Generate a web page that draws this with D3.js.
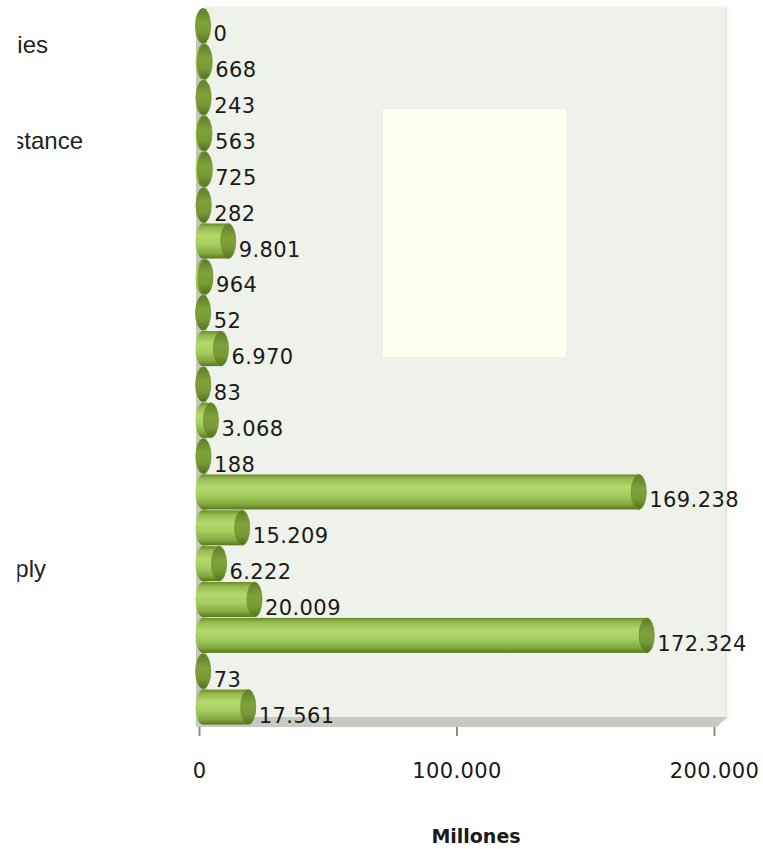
<!DOCTYPE html>
<html>
<head>
<meta charset="utf-8">
<script src="https://cdn.jsdelivr.net/npm/d3@7"></script>
<style>
  body { margin: 0; background: #ffffff; }
  svg { display: block; }
</style>
</head>
<body>
<div id="chart"></div>
<script>
// Data (cut-off bar chart, values in "Millones")
const categories = ['r01', 'r02', 'r03', 'r04', 'r05', 'r06', 'r07', 'r08', 'r09', 'r10',
                    'r11', 'r12', 'r13', 'r14', 'r15', 'r16', 'r17', 'r18', 'r19', 'r20'];
const values = [0, 668, 243, 563, 725, 282, 9801, 964, 52, 6970,
                83, 3068, 188, 169238, 15209, 6222, 20009, 172324, 73, 17561];
const tickValues = [0, 100000, 200000];
// visible fragments of the (clipped) category labels and the row they sit on
const labelFragments = ['ies', 'stance', 'ply'];
const labelRows = [1.26, 3.93, 15.87];
const axisTitle = 'Millones';

(function() {
    const width = 763;
    const height = 849;

    const fmt = d3.formatLocale({decimal: ',', thousands: '.', grouping: [3], currency: ['', '']}).format(',d');

    const svg = d3.select('#chart')
        .append('svg')
        .attr('width', width)
        .attr('height', height);

    const defs = svg.append('defs');

    // cylinder body: dark edges, light middle
    const body = defs.append('linearGradient')
        .attr('id', 'cyl')
        .attr('x1', 0).attr('y1', 0).attr('x2', 0).attr('y2', 1);
    [[0, '#6b8a2c'], [0.12, '#93bb4c'], [0.35, '#b3d86c'], [0.6, '#a6cd5f'], [0.85, '#82aa3e'], [1, '#58771f']]
        .forEach(s => body.append('stop').attr('offset', s[0]).attr('stop-color', s[1]));

    const cap = defs.append('linearGradient')
        .attr('id', 'cap')
        .attr('x1', 0).attr('y1', 0).attr('x2', 0).attr('y2', 1);
    [[0, '#5f7e25'], [0.4, '#7fa23c'], [0.7, '#779a36'], [1, '#53711c']]
        .forEach(s => cap.append('stop').attr('offset', s[0]).attr('stop-color', s[1]));

    const shade = defs.append('filter').attr('id', 'soft')
        .attr('x', -0.05).attr('y', -0.05).attr('width', 1.1).attr('height', 1.1);
    shade.append('feGaussianBlur').attr('stdDeviation', 1.5);

    defs.append('clipPath').attr('id', 'leftcut')
        .append('rect').attr('x', 17.5).attr('y', 0).attr('width', 180).attr('height', height);

    // scales
    const x = d3.scaleLinear()
        .domain([0, 200000])
        .range([199, 714]);

    const y = d3.scaleBand()
        .domain(categories)
        .range([8, 725])
        .padding(0);

    const row = d3.scaleLinear()
        .domain([0, categories.length])
        .range([8, 725]);

    const depth = 4;      // 3D depth shift of the bars
    const r = 17.5;       // cylinder radius
    const rx = 7.5;       // ellipse half width of the caps

    // back wall
    svg.append('rect')
        .attr('x', 206).attr('y', 7)
        .attr('width', 521).attr('height', 713)
        .attr('fill', '#dfe4da')
        .attr('filter', 'url(#soft)');
    svg.append('rect')
        .attr('x', 206).attr('y', 7)
        .attr('width', 519).attr('height', 711)
        .attr('fill', '#eef2ea');

    // odd pale box sitting in the plot
    svg.append('rect')
        .attr('x', 383).attr('y', 109)
        .attr('width', 183).attr('height', 248)
        .attr('fill', '#fefff0');

    // side wall and floor
    svg.append('path')
        .attr('d', 'M196,20 L207,7 L207,718 L196,727 Z')
        .attr('fill', '#c3c8bf');
    svg.append('path')
        .attr('d', 'M196,727 L207,717 L727,717 L717,727 Z')
        .attr('fill', '#c6cac2');

    // bars
    const bars = svg.append('g')
        .selectAll('g')
        .data(values)
        .enter()
        .append('g');

    const cy = (d, i) => y(categories[i]) + y.bandwidth() / 2;

    bars.append('rect')
        .attr('x', x(0) + depth)
        .attr('y', (d, i) => cy(d, i) - r)
        .attr('width', d => x(d) - x(0))
        .attr('height', r * 2)
        .attr('fill', 'url(#cyl)');

    bars.append('ellipse')
        .attr('cx', x(0) + depth)
        .attr('cy', (d, i) => cy(d, i))
        .attr('rx', rx)
        .attr('ry', r)
        .attr('fill', 'url(#cyl)');

    bars.append('ellipse')
        .attr('cx', d => x(d) + depth)
        .attr('cy', (d, i) => cy(d, i))
        .attr('rx', rx)
        .attr('ry', r)
        .attr('fill', 'url(#cap)')
        .attr('stroke', '#6f9130')
        .attr('stroke-width', 0.8);

    // value labels
    svg.append('g')
        .selectAll('text')
        .data(values)
        .enter()
        .append('text')
        .attr('x', d => x(d) + depth + rx + 3)
        .attr('y', (d, i) => cy(d, i) + 15.5)
        .attr('font-family', 'DejaVu Sans, sans-serif')
        .attr('font-size', '21px')
        .attr('letter-spacing', '0.4px')
        .attr('fill', '#1a1a1a')
        .text(d => fmt(d));

    // x axis
    const axis = svg.append('g')
        .attr('transform', 'translate(0,727)')
        .call(d3.axisBottom(x).tickValues(tickValues).tickSize(9).tickFormat(fmt));
    axis.select('.domain').remove();
    axis.selectAll('.tick line')
        .attr('stroke', '#8a8a8a')
        .attr('stroke-width', 2);
    axis.selectAll('.tick text')
        .attr('y', 51)
        .attr('dy', 0)
        .attr('font-family', 'DejaVu Sans, sans-serif')
        .attr('font-size', '21px')
        .attr('letter-spacing', '0.4px')
        .attr('fill', '#1a1a1a');

    svg.append('text')
        .attr('x', 476)
        .attr('y', 843)
        .attr('text-anchor', 'middle')
        .attr('font-family', 'DejaVu Sans, sans-serif')
        .attr('font-weight', 'bold')
        .attr('font-size', '19px')
        .attr('fill', '#1a1a1a')
        .text(axisTitle);

    // category labels, cut off at the left edge of the picture
    const ends = [48, 83, 46];
    svg.append('g')
        .attr('clip-path', 'url(#leftcut)')
        .selectAll('text')
        .data(labelFragments)
        .enter()
        .append('text')
        .attr('x', (d, i) => ends[i])
        .attr('y', (d, i) => row(labelRows[i]))
        .attr('text-anchor', 'end')
        .attr('font-family', 'Liberation Sans, Arial, sans-serif')
        .attr('font-size', '24px')
        .attr('fill', '#222')
        .text(d => d);
})();
</script>
</body>
</html>
